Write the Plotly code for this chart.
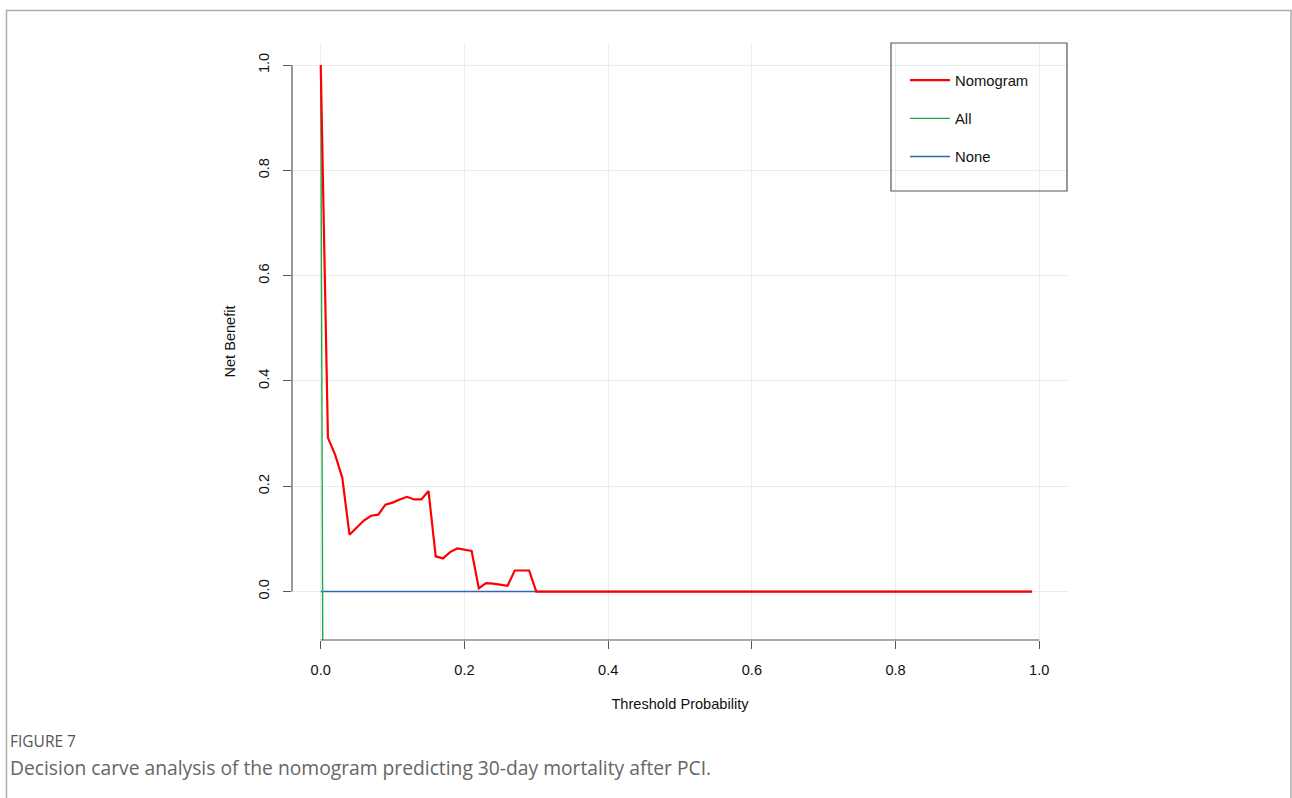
import plotly.graph_objects as go

# ---- data ----
threshold = [0.00, 0.01, 0.02, 0.03, 0.04, 0.05, 0.06, 0.07, 0.08, 0.09,
             0.10, 0.11, 0.12, 0.13, 0.14, 0.15, 0.16, 0.17, 0.18, 0.19,
             0.20, 0.21, 0.22, 0.23, 0.24, 0.25, 0.26, 0.27, 0.28, 0.29,
             0.30, 0.40, 0.50, 0.60, 0.70, 0.80, 0.90, 0.99]
nomogram = [1.000, 0.292, 0.260, 0.216, 0.108, 0.122, 0.135, 0.144, 0.146, 0.165,
            0.169, 0.175, 0.180, 0.175, 0.175, 0.191, 0.067, 0.063, 0.075, 0.082,
            0.080, 0.077, 0.006, 0.016, 0.015, 0.013, 0.011, 0.040, 0.040, 0.040,
            0.000, 0.000, 0.000, 0.000, 0.000, 0.000, 0.000, 0.000]
all_x = [0.0, 0.01]
all_y = [1.0, -2.9]
none_x = [0.0, 0.99]
none_y = [0.0, 0.0]

x_ticks = [0.0, 0.2, 0.4, 0.6, 0.8, 1.0]
y_ticks = [0.0, 0.2, 0.4, 0.6, 0.8, 1.0]
tick_text = ["0.0", "0.2", "0.4", "0.6", "0.8", "1.0"]

W, H = 1292, 798
L, R, T, B = 292, 224, 43, 158
pw, ph = W - L - R, H - T - B

def px2paper_x(px):
    return (px - L) / pw

def px2paper_y(py):
    return (H - B - py) / ph

fig = go.Figure()
fig.add_trace(go.Scatter(x=none_x, y=none_y, mode="lines", name="None",
                         legendgroup="c", legendrank=3,
                         line=dict(color="#2a6ab8", width=1.5)))
fig.add_trace(go.Scatter(x=all_x, y=all_y, mode="lines", name="All",
                         legendgroup="b", legendrank=2,
                         line=dict(color="#1faa4a", width=1.4)))
fig.add_trace(go.Scatter(x=threshold, y=nomogram, mode="lines", name="Nomogram",
                         legendgroup="a", legendrank=1,
                         line=dict(color="#ff0000", width=2.2)))

axis_font = dict(family="Liberation Sans, Arial, sans-serif", size=14.6, color="#111")

fig.update_layout(
    width=W, height=H,
    margin=dict(l=L, r=R, t=T, b=B),
    paper_bgcolor="white", plot_bgcolor="white",
    showlegend=True,
    legend=dict(x=px2paper_x(905), y=px2paper_y(64), xanchor="left", yanchor="top",
                traceorder="grouped", tracegroupgap=16,
                font=dict(family="Liberation Sans, Arial, sans-serif", size=14.8, color="#111"),
                bgcolor="rgba(0,0,0,0)", borderwidth=0, itemwidth=40),
    xaxis=dict(range=[-0.04, 1.04], tickvals=x_ticks, ticktext=tick_text,
               showgrid=True, gridcolor="#ececec", gridwidth=1, zeroline=False,
               showline=False, ticks="outside", ticklen=8, tickcolor="#555",
               tickfont=axis_font, ticklabelstandoff=8,
               title=dict(text="Threshold Probability", font=axis_font, standoff=22)),
    yaxis=dict(range=[-0.092, 1.042], tickvals=y_ticks, ticktext=tick_text,
               showgrid=True, gridcolor="#ececec", gridwidth=1, zeroline=False,
               showline=False, ticks="outside", ticklen=8, tickcolor="#555",
               tickangle=-90, tickfont=axis_font, ticklabelstandoff=8,
               title=dict(text="Net Benefit", font=axis_font, standoff=17)),
    shapes=[
        # axis lines spanning first to last tick (R style)
        dict(type="line", xref="x", yref="paper", x0=0, x1=1, y0=0, y1=0,
             line=dict(color="#555", width=1.2)),
        dict(type="line", xref="paper", yref="y", x0=0, x1=0, y0=0, y1=1,
             line=dict(color="#555", width=1.2)),
        # legend box
        dict(type="rect", xref="paper", yref="paper",
             x0=px2paper_x(891), x1=px2paper_x(1067), y0=px2paper_y(191), y1=px2paper_y(43),
             line=dict(color="#555", width=1.2), fillcolor="rgba(0,0,0,0)"),
        # outer figure frame
        dict(type="rect", xref="paper", yref="paper",
             x0=px2paper_x(6.5), x1=px2paper_x(1291), y0=px2paper_y(830), y1=px2paper_y(10.5),
             line=dict(color="#aaaaaa", width=1.5), fillcolor="rgba(0,0,0,0)", layer="below"),
    ],
    annotations=[
        dict(text="FIGURE 7", xref="paper", yref="paper", x=px2paper_x(8), y=px2paper_y(741),
             xanchor="left", yanchor="middle", showarrow=False,
             font=dict(family="Open Sans, sans-serif", size=15.5, color="#555")),
        dict(text="Decision carve analysis of the nomogram predicting 30-day mortality after PCI.",
             xref="paper", yref="paper", x=px2paper_x(8), y=px2paper_y(767),
             xanchor="left", yanchor="middle", showarrow=False,
             font=dict(family="Open Sans, sans-serif", size=19.25, color="#666")),
    ],
)

fig.write_html("out.html", config={"displayModeBar": False},
               post_script="document.body.style.margin='0';document.body.style.overflow='hidden';")
